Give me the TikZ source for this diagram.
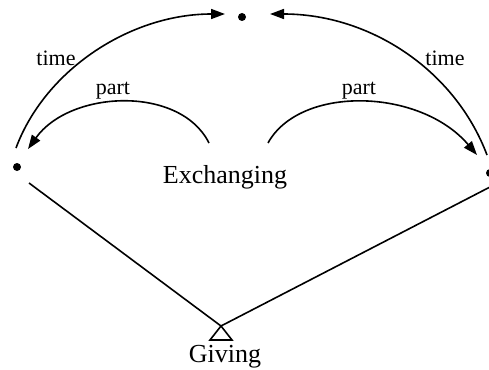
\documentclass[tikz,border=0pt]{standalone}
\usepackage{fontspec}
\setmainfont{Liberation Serif}
\usetikzlibrary{arrows.meta}
\tikzset{
  dot/.style={circle,fill=black,inner sep=0pt,minimum size=8pt},
  conn/.style={line width=1.6pt},
  arr/.style={conn,-{Triangle[length=14pt,width=10pt]}},
  big/.style={font=\fontsize{26}{28}\selectfont,inner sep=0pt,anchor=base},
  small/.style={font=\fontsize{22}{24}\selectfont,inner sep=0pt,anchor=base},
}
\begin{document}
\begin{tikzpicture}[x=1pt,y=-1pt]
\useasboundingbox (0,0) rectangle (489,369);
% dots
\node[dot] (T) at (242,17) {};
\node[dot] (L) at (17,167) {};
\node[dot] (R) at (490,173) {};
% texts
\node[big] (ex) at (225,183) {Exchanging};
\node[big] (gv) at (225,362) {Giving};
\node[small] (t1) at (56,65) {time};
\node[small] (t2) at (445,66) {time};
\node[small] (p1) at (113,94) {part};
\node[small] (p2) at (359,94) {part};
% endpoints
\coordinate (apex) at (221,326);
\coordinate (la) at (29,183);
\coordinate (ra) at (490,187);
\coordinate (tls) at (16,148);
\coordinate (tle) at (225,14);
\coordinate (trs) at (487,155);
\coordinate (tre) at (270,14);
\coordinate (pls) at (209,143);
\coordinate (ple) at (28,149);
\coordinate (prs) at (268,143);
\coordinate (pre) at (477,155);
% triangle
\draw[conn,line join=miter] (apex) -- ++(11,14) -- ++(-22,0) -- cycle;
% lines
\draw[conn] (la) -- (apex) -- (ra);
% time arcs
\draw[arr] (tls) .. controls (45,70) and (130,14) .. (tle);
\draw[arr] (trs) .. controls (455,70) and (370,14) .. (tre);
% part arcs
\draw[arr] (pls) .. controls (180,85) and (70,90) .. (ple);
\draw[arr] (prs) .. controls (300,85) and (420,88) .. (pre);
\end{tikzpicture}
\end{document}
